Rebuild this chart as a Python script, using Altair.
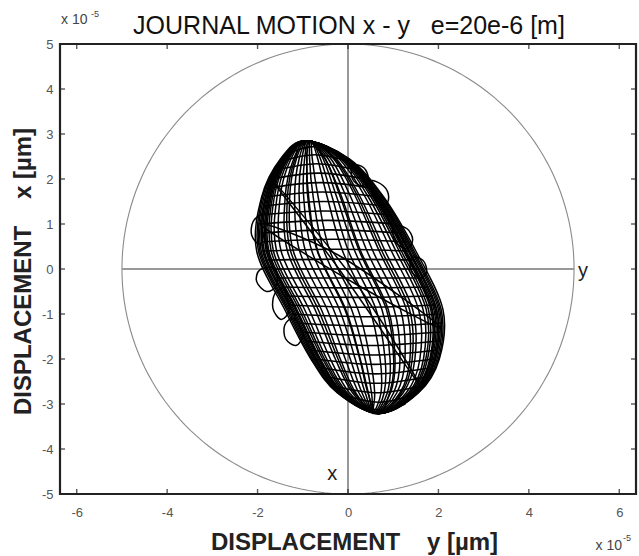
import altair as alt
import numpy as np
import pandas as pd

# ---------------- data ----------------
X_TICKS = [-6, -4, -2, 0, 2, 4, 6]
Y_TICKS = [-5, -4, -3, -2, -1, 0, 1, 2, 3, 4, 5]
X_LIMITS = [-6.37, 6.37]
Y_LIMITS = [-5, 5]
CLEARANCE = 5.0  # radius of clearance circle (x 1e-5)

# long orbit loops: shared y-levels, one x-list per loop
LOOP_Y = [2.85, 2.45, 1.6, 0.4, -0.9, -2.0, -2.75, -3.21, -2.75, -2.0, -0.9, 0.4, 1.6, 2.45]
LOOP_X = [
    [-0.95, 0.03, 0.79, 1.50, 2.10, 2.02, 1.56, 0.69, -0.24, -0.82, -1.40, -2.02, -1.91, -1.49],
    [-0.94, 0.01, 0.77, 1.46, 2.06, 2.00, 1.55, 0.69, -0.23, -0.80, -1.36, -1.98, -1.89, -1.47],
    [-0.93, 0.00, 0.74, 1.43, 2.03, 1.97, 1.53, 0.68, -0.21, -0.77, -1.33, -1.95, -1.86, -1.46],
    [-0.93, -0.01, 0.71, 1.40, 2.00, 1.94, 1.51, 0.68, -0.19, -0.74, -1.30, -1.92, -1.83, -1.45],
    [-0.93, -0.03, 0.69, 1.36, 1.96, 1.92, 1.50, 0.68, -0.18, -0.72, -1.26, -1.88, -1.81, -1.43],
    [-0.93, -0.04, 0.66, 1.33, 1.93, 1.89, 1.48, 0.68, -0.16, -0.69, -1.23, -1.85, -1.78, -1.42],
    [-0.93, -0.06, 0.64, 1.29, 1.90, 1.86, 1.46, 0.68, -0.14, -0.66, -1.20, -1.81, -1.76, -1.40],
    [-0.92, -0.07, 0.61, 1.26, 1.86, 1.83, 1.44, 0.67, -0.12, -0.63, -1.16, -1.78, -1.73, -1.39],
    [-0.92, -0.09, 0.58, 1.23, 1.83, 1.81, 1.43, 0.67, -0.11, -0.61, -1.13, -1.75, -1.70, -1.37],
    [-0.92, -0.11, 0.55, 1.18, 1.78, 1.76, 1.40, 0.67, -0.08, -0.56, -1.08, -1.70, -1.67, -1.35],
    [-0.91, -0.13, 0.51, 1.13, 1.73, 1.72, 1.37, 0.66, -0.05, -0.52, -1.03, -1.65, -1.63, -1.33],
    [-0.91, -0.16, 0.45, 1.06, 1.66, 1.67, 1.34, 0.66, -0.02, -0.47, -0.96, -1.58, -1.57, -1.30],
    [-0.90, -0.20, 0.38, 0.96, 1.56, 1.59, 1.29, 0.65, 0.03, -0.39, -0.86, -1.48, -1.50, -1.26],
    [-0.89, -0.26, 0.27, 0.82, 1.43, 1.48, 1.22, 0.64, 0.10, -0.28, -0.73, -1.34, -1.39, -1.20],
    [-0.88, -0.32, 0.17, 0.69, 1.29, 1.37, 1.15, 0.63, 0.17, -0.17, -0.59, -1.21, -1.29, -1.14],
    [-0.87, -0.38, 0.06, 0.55, 1.16, 1.26, 1.08, 0.62, 0.24, -0.06, -0.46, -1.07, -1.18, -1.08],
    [-0.86, -0.44, -0.04, 0.42, 1.02, 1.15, 1.01, 0.61, 0.31, 0.05, -0.32, -0.94, -1.08, -1.02],
    [-0.84, -0.50, -0.14, 0.28, 0.89, 1.04, 0.94, 0.59, 0.38, 0.16, -0.19, -0.80, -0.98, -0.96],
    [-0.83, -0.55, -0.25, 0.15, 0.75, 0.93, 0.87, 0.58, 0.45, 0.27, -0.05, -0.67, -0.87, -0.91],
    [-0.82, -0.61, -0.35, 0.01, 0.62, 0.82, 0.80, 0.57, 0.52, 0.38, 0.08, -0.53, -0.77, -0.85],
    [-0.80, -0.67, -0.46, -0.12, 0.48, 0.71, 0.73, 0.55, 0.59, 0.49, 0.22, -0.40, -0.66, -0.79],
    [-0.90, -0.03, 0.69, 1.36, 1.96, 1.92, 1.50, 0.70, 0.44, 0.26, -0.07, -0.68, -0.89, -0.91],
    [-0.95, -0.51, -0.17, 0.25, 0.85, 1.01, 0.92, 0.62, -0.18, -0.72, -1.26, -1.88, -1.81, -1.43],
    [-0.93, -0.29, 0.22, 0.75, 1.36, 1.42, 1.18, 0.64, -0.12, -0.63, -1.16, -1.78, -1.73, -1.39],
    [-0.90, -0.07, 0.61, 1.26, 1.86, 1.83, 1.44, 0.70, 0.14, -0.22, -0.66, -1.27, -1.34, -1.17],
]

# cross arcs of the orbit mesh (left end, middle, right end)
ARC_Y = [2.6, 2.4, 2.2, 2.0, 1.8, 1.6, 1.4, 1.2, 1.0, 0.8, 0.6, 0.4, 0.2, 0.0, -0.2,
         -0.4, -0.6, -0.8, -1.0, -1.2, -1.4, -1.6, -1.8, -2.0, -2.2, -2.4, -2.6, -2.8, -3.0]
ARC_L = [-1.25, -1.46, -1.57, -1.68, -1.75, -1.81, -1.87, -1.94, -1.94, -1.92, -1.91, -1.89,
         -1.78, -1.66, -1.54, -1.46, -1.39, -1.32, -1.24, -1.14, -1.04, -0.94, -0.84, -0.72,
         -0.58, -0.44, -0.31, -0.08, 0.15]
ARC_R = [-0.27, 0.00, 0.19, 0.38, 0.53, 0.68, 0.82, 0.93, 1.05, 1.17, 1.28, 1.38, 1.48,
         1.58, 1.68, 1.78, 1.88, 1.95, 2.01, 2.07, 2.04, 2.00, 1.97, 1.90, 1.81, 1.72, 1.61,
         1.44, 1.27]
ARC_MX = [-0.76, -0.73, -0.69, -0.65, -0.61, -0.57, -0.53, -0.51, -0.45, -0.38, -0.32,
          -0.26, -0.15, -0.04, 0.07, 0.16, 0.25, 0.32, 0.39, 0.47, 0.50, 0.53, 0.57, 0.59,
          0.62, 0.64, 0.65, 0.68, 0.71]
ARC_MY = [2.72, 2.54, 2.34, 2.13, 1.92, 1.71, 1.50, 1.29, 1.08, 0.87, 0.66, 0.44, 0.22,
          0.0, -0.20, -0.42, -0.63, -0.85, -1.06, -1.27, -1.48, -1.70, -1.91, -2.12, -2.33,
          -2.54, -2.75, -2.96, -3.13]

# small closed loops: diagonal lenses and bumps along the edge
SMALL_LOOPS = [
    [(-1.95, 1.0), (-0.2, 0.3), (2.05, -1.3), (0.2, -0.35)],
    [(-1.7, 2.0), (0.1, -0.2), (1.6, -2.6), (-0.2, 0.0)],
    [(-1.62, 0.02), (-1.95, -0.02), (-2.02, -0.28), (-1.8, -0.5), (-1.58, -0.35)],
    [(-1.42, -0.45), (-1.62, -0.55), (-1.66, -0.88), (-1.48, -1.12), (-1.3, -0.9)],
    [(-1.2, -1.1), (-1.4, -1.25), (-1.38, -1.55), (-1.15, -1.7), (-1.0, -1.45)],
    [(0.1, 2.3), (0.35, 2.25), (0.45, 2.0), (0.3, 1.85), (0.1, 2.0)],
    [(0.5, 1.95), (0.78, 1.85), (0.9, 1.6), (0.8, 1.38), (0.6, 1.55)],
    [(1.0, 0.95), (1.3, 0.9), (1.43, 0.65), (1.3, 0.45), (1.05, 0.6)],
    [(1.4, 0.25), (1.65, 0.2), (1.74, -0.05), (1.6, -0.2), (1.4, -0.05)],
    [(-1.9, 1.2), (-2.1, 1.05), (-2.13, 0.75), (-1.95, 0.55), (-1.85, 0.85)],
]

LABELS_T = ["y", "x"]
LABELS_X = [5.2, -0.35]
LABELS_Y = [-0.05, -4.55]

# ---------------- tables ----------------
rows = []
for k, xs in enumerate(LOOP_X):
    for i, (xv, yv) in enumerate(zip(xs, LOOP_Y)):
        rows.append({"c": f"L{k}", "i": i, "x": xv, "y": yv})
for k, pts in enumerate(SMALL_LOOPS):
    for i, (xv, yv) in enumerate(pts):
        rows.append({"c": f"S{k}", "i": i, "x": xv, "y": yv})
closed_df = pd.DataFrame(rows)

arc_rows = []
for k in range(len(ARC_Y)):
    arc_rows += [
        {"c": f"A{k}", "i": 0, "x": ARC_L[k], "y": ARC_Y[k]},
        {"c": f"A{k}", "i": 1, "x": ARC_MX[k], "y": ARC_MY[k]},
        {"c": f"A{k}", "i": 2, "x": ARC_R[k], "y": ARC_Y[k]},
    ]
arc_df = pd.DataFrame(arc_rows)

ang = np.deg2rad(np.arange(0, 361, 2))
circle_df = pd.DataFrame({"i": np.arange(len(ang)),
                          "x": CLEARANCE * np.cos(ang),
                          "y": CLEARANCE * np.sin(ang)})

XS = alt.Scale(domain=X_LIMITS, nice=False, zero=False)
YS = alt.Scale(domain=Y_LIMITS, nice=False, zero=False)
FONT = "Liberation Sans"
NB = "\u00a0"

x_axis = alt.Axis(values=X_TICKS, labelExpr="datum.value + ''", grid=False, ticks=False,
                  domain=False, labelFontSize=13, labelColor="#555", labelPadding=12,
                  labelFont=FONT,
                  title=f"DISPLACEMENT{NB*4}y [µm]", titleFont=FONT, titleFontSize=24,
                  titleFontWeight="bold", titleColor="#222", titleX=294, titleY=55,
                  titleBaseline="alphabetic", titleAlign="center", titleAnchor="middle")
y_axis = alt.Axis(values=Y_TICKS, labelExpr="datum.value + ''", grid=False, ticks=False,
                  domain=False, labelFontSize=13, labelColor="#555", labelPadding=7,
                  labelFont=FONT,
                  title=f"DISPLACEMENT{NB*4}x [µm]", titleFont=FONT, titleFontSize=24,
                  titleFontWeight="bold", titleColor="#222", titleX=-37, titleY=227,
                  titleAngle=-90, titleBaseline="middle", titleAlign="center",
                  titleAnchor="middle")

circle = alt.Chart(circle_df).mark_line(color="#8a8a8a", strokeWidth=1.1).encode(
    x=alt.X("x:Q", scale=XS, axis=x_axis),
    y=alt.Y("y:Q", scale=YS, axis=y_axis),
    order="i:Q")

vline = alt.Chart(pd.DataFrame({"v": [0]})).mark_rule(color="#999", strokeWidth=2).encode(
    x=alt.X("v:Q", scale=XS))
hline = alt.Chart(pd.DataFrame({"a": [-CLEARANCE], "b": [CLEARANCE], "v": [0]})).mark_rule(
    color="#999", strokeWidth=2).encode(
    x=alt.X("a:Q", scale=XS), x2="b:Q",
    y=alt.Y("v:Q", scale=YS))

loops = alt.Chart(closed_df).mark_line(interpolate="cardinal-closed", color="black",
                                       strokeWidth=1.5).encode(
    x=alt.X("x:Q", scale=XS), y=alt.Y("y:Q", scale=YS),
    detail="c:N", order="i:Q")
arcs = alt.Chart(arc_df).mark_line(interpolate="cardinal", color="black",
                                   strokeWidth=1.6).encode(
    x=alt.X("x:Q", scale=XS), y=alt.Y("y:Q", scale=YS),
    detail="c:N", order="i:Q")

xt_df = pd.DataFrame({"v": X_TICKS})
yt_df = pd.DataFrame({"v": Y_TICKS})
tick_style = dict(size=10, thickness=1.4, color="#111", clip=True)
xticks_b = alt.Chart(xt_df).mark_tick(orient="vertical", **tick_style).encode(
    x=alt.X("v:Q", scale=XS), y=alt.Y(datum=Y_LIMITS[0], scale=YS))
xticks_t = alt.Chart(xt_df).mark_tick(orient="vertical", **tick_style).encode(
    x=alt.X("v:Q", scale=XS), y=alt.Y(datum=Y_LIMITS[1], scale=YS))
yticks_l = alt.Chart(yt_df).mark_tick(orient="horizontal", **tick_style).encode(
    y=alt.Y("v:Q", scale=YS), x=alt.X(datum=X_LIMITS[0], scale=XS))
yticks_r = alt.Chart(yt_df).mark_tick(orient="horizontal", **tick_style).encode(
    y=alt.Y("v:Q", scale=YS), x=alt.X(datum=X_LIMITS[1], scale=XS))

one = pd.DataFrame({"t": [0]})
frame = alt.Chart(one).mark_rect(filled=False, stroke="#222", strokeWidth=2.2).encode(
    x=alt.X(datum=X_LIMITS[0], scale=XS), x2=alt.X2(datum=X_LIMITS[1]),
    y=alt.Y(datum=Y_LIMITS[0], scale=YS), y2=alt.Y2(datum=Y_LIMITS[1]))

lab = alt.Chart(pd.DataFrame({"t": LABELS_T, "x": LABELS_X, "y": LABELS_Y})).mark_text(
    fontSize=20, font=FONT, color="#222", baseline="middle", align="center").encode(
    x=alt.X("x:Q", scale=XS), y=alt.Y("y:Q", scale=YS), text="t:N")


def note(txt, xd, yd, dx, dy, size, align="left", baseline="alphabetic", color="#444"):
    return alt.Chart(one).mark_text(text=txt, fontSize=size, font=FONT, color=color,
                                    align=align, baseline=baseline, dx=dx, dy=dy).encode(
        x=alt.X(datum=xd, scale=XS), y=alt.Y(datum=yd, scale=YS))


title = note(f"JOURNAL MOTION x - y{NB*3}e=20e-6 [m]", 0, 5, 1, -10, 25,
             align="center", color="#111")
exp_tl = note("x 10", X_LIMITS[0], Y_LIMITS[1], 1, -20, 14)
exp_tl2 = note("-5", X_LIMITS[0], Y_LIMITS[1], 31, -27, 9)
exp_br = note("x 10", X_LIMITS[1], Y_LIMITS[0], -14, 56, 14, align="right")
exp_br2 = note("-5", X_LIMITS[1], Y_LIMITS[0], -13, 47, 9)

chart = alt.layer(circle, vline, hline, loops, arcs, xticks_b, xticks_t, yticks_l,
                  yticks_r, frame, lab, title, exp_tl, exp_tl2, exp_br, exp_br2).properties(
    width=576, height=450,
    autosize=alt.AutoSizeParams(type="none"),
    padding={"left": 60, "top": 44, "right": 3, "bottom": 62},
).configure(background="white").configure_view(stroke="#222", strokeWidth=2)

chart.save("out.html", embed_options={"renderer": "svg", "actions": False})
